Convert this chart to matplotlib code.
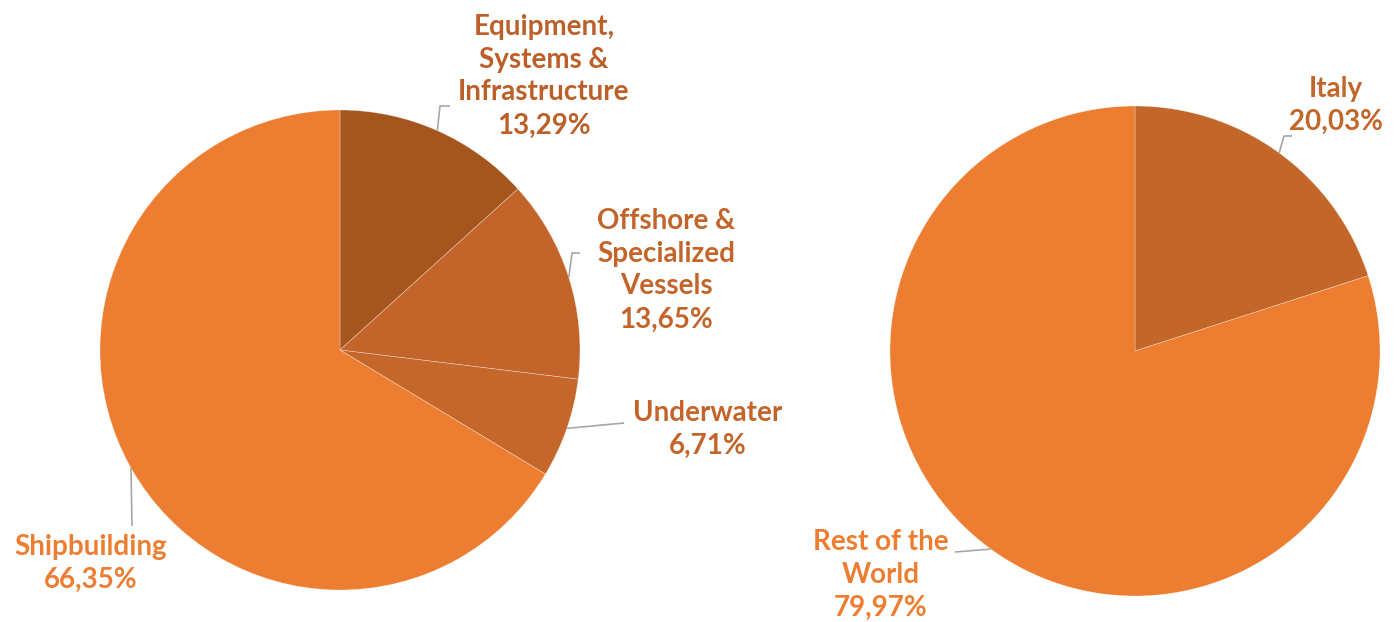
import numpy as np
import matplotlib.pyplot as plt

# segment split (left) and geographic split (right)
segments = ["Equipment,\nSystems &\nInfrastructure", "Offshore &\nSpecialized\nVessels",
            "Underwater", "Shipbuilding"]
segment_share = [13.29, 13.65, 6.71, 66.35]

regions = ["Italy", "Rest of the\nWorld"]
region_share = [20.03, 79.97]

seg_colors = ["#A5561F", "#C3652A", "#C5672B", "#ED7D31"]
seg_text = ["#BC5F28", "#C3652A", "#C3652A", "#ED7D31"]
reg_colors = ["#C3662A", "#ED7D31"]
reg_text = ["#C3662A", "#ED7D31"]

W, H = 1400, 622
plt.rcParams["font.family"] = ["Lato", "DejaVu Sans"]

fig = plt.figure(figsize=(W / 100, H / 100), dpi=100)
ax = fig.add_axes([0, 0, 1, 1])


def pie_with_labels(values, labels, colors, text_colors, cx, cy, r, placements):
    # cx, cy in pixel space measured from the top
    center = (cx, H - cy)
    wedges, _ = ax.pie(values, colors=colors, startangle=90, counterclock=False,
                       center=center, radius=r,
                       wedgeprops=dict(edgecolor=(1, 1, 1, 0.5), linewidth=0.4))
    for w, lab, val, tc, (tx, ty, elbow, end) in zip(wedges, labels, values,
                                                      text_colors, placements):
        mid = np.deg2rad((w.theta1 + w.theta2) / 2)
        px = center[0] + r * np.cos(mid)
        py = center[1] + r * np.sin(mid)
        pts = [(px, py)]
        if elbow is not None:
            pts.append((elbow[0], H - elbow[1]))
        pts.append((end[0], H - end[1]))
        xs, ys = zip(*pts)
        ax.plot(xs, ys, color="#A6A6A6", lw=1.2, solid_capstyle="butt")
        txt = f"{lab}\n{val:.2f}%".replace(".", ",")
        ax.text(tx, H - ty, txt, ha="center", va="center", fontsize=20,
                fontweight="bold", color=tc, linespacing=1.33)


seg_place = [
    (544, 76, (440, 106), (450, 106)),
    (666, 270, (572, 253), (580, 253)),
    (708, 429, None, (624, 423)),
    (91, 563, None, (132, 526)),
]
reg_place = [
    (1336, 105, (1284, 136), (1292, 136)),
    (881, 575, None, (955, 552)),
]

pie_with_labels(segment_share, segments, seg_colors, seg_text, 340, 350, 240, seg_place)
pie_with_labels(region_share, regions, reg_colors, reg_text, 1135, 351, 245, reg_place)

ax.set_xlim(0, W)
ax.set_ylim(0, H)
ax.set_aspect("equal")
ax.axis("off")

fig.savefig("out.png", dpi=100, facecolor="white")
